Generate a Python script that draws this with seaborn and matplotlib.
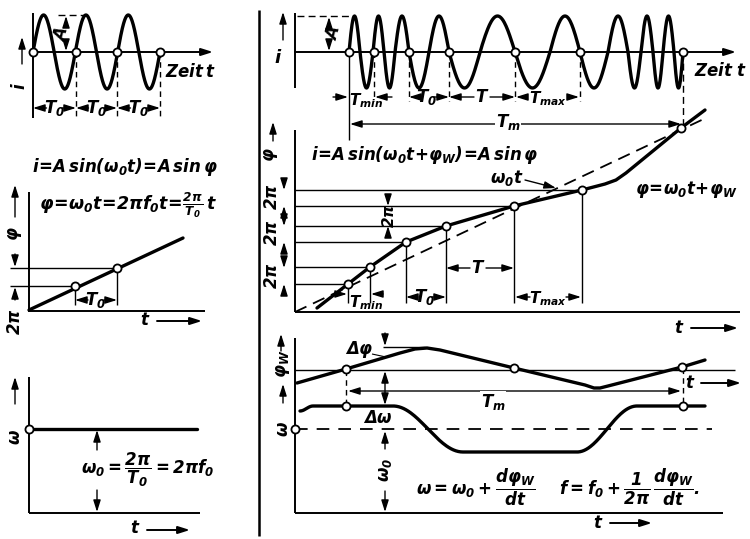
import numpy as np
import matplotlib
matplotlib.use("Agg")
import matplotlib.pyplot as plt
import seaborn as sns

# ---------------- data (diagram units) ----------------
# left column: unmodulated oscillation
L_cross = [33, 76, 117, 160]            # zero crossings every T0
L_axis_y = 52
L_amp = 37
L_phase_line_x = [29, 183]
L_phase_line_y = [310, 238]
L_phase_pts_x = [75, 117]
L_phase_pts_y = [286, 268]
L_omega_y = 429

# right column: frequency-modulated oscillation
fm_cross = [349, 360, 373, 384, 395, 409, 429, 449, 480, 515, 550, 580,
            608, 628, 641, 653, 663, 674, 683]       # half-period crossings
fm_circles = [349, 374, 409, 449, 515, 580, 683]
R_axis_y = 52
R_amp = 36

phase_x = [317, 348, 370, 406, 446, 514, 582, 605, 616, 626, 681, 705]
phase_y = [308, 284, 267, 242, 226, 206, 190, 184, 180, 173, 128, 110]
phase_pts_x = [348, 370, 406, 446, 514, 582, 681]
phase_pts_y = [284, 267, 242, 226, 206, 190, 128]
omega0t_x = [295, 708]
omega0t_y = [312, 117]

phiw_x = [297, 346, 400, 415, 427, 440, 514, 585, 594, 600, 608, 682, 705]
phiw_y = [383, 369, 353, 349, 348, 350, 368, 385, 388, 388, 386, 367, 360]
phiw_pts_x = [346, 514, 682]
phiw_pts_y = [369, 368, 367]

omega_hi, omega_lo = 406, 452
omega_edges = [300, 313, 393, 463, 577, 637, 705]

# ---------------- style ----------------
sns.set_theme(style="white")
plt.rcParams["font.family"] = ["DejaVu Sans"]
plt.rcParams["mathtext.fontset"] = "custom"
plt.rcParams["mathtext.it"] = "DejaVu Sans:italic:bold"
plt.rcParams["mathtext.rm"] = "DejaVu Sans:italic:bold"
plt.rcParams["mathtext.bf"] = "DejaVu Sans:italic:bold"
plt.rcParams["mathtext.sf"] = "DejaVu Sans:italic:bold"

fig = plt.figure(figsize=(7.5, 5.39), dpi=100)
ax = fig.add_axes([0, 0, 1, 1])
ax.set_xlim(0, 750)
ax.set_ylim(539, 0)
ax.axis("off")

K = "black"
THICK = 2.4
THIN = 1.0
AXW = 1.4
FS = 12


def line(xs, ys, lw=THIN, ls="-", dashes=None):
    kw = dict(color=K, lw=lw, ls=ls, solid_capstyle="butt")
    l, = ax.plot(xs, ys, **kw)
    if dashes:
        l.set_dashes(dashes)
    return l


def arrow(x1, y1, x2, y2, lw=THIN, hl=0.7, hw=0.22):
    ax.annotate("", xy=(x2, y2), xytext=(x1, y1),
                arrowprops=dict(arrowstyle=f"-|>,head_length={hl},head_width={hw}",
                                color=K, lw=lw, shrinkA=0, shrinkB=0,
                                mutation_scale=10))


def darrow(x1, y1, x2, y2, lw=THIN):
    ax.annotate("", xy=(x2, y2), xytext=(x1, y1),
                arrowprops=dict(arrowstyle="<|-|>,head_length=0.7,head_width=0.22",
                                color=K, lw=lw, shrinkA=0, shrinkB=0,
                                mutation_scale=10))


def txt(x, y, s, fs=FS, rot=0, bg=False, ha="center"):
    kw = {}
    if bg:
        kw["bbox"] = dict(facecolor="white", edgecolor="none", pad=0.5)
    ax.text(x, y, s, fontsize=fs, rotation=rot, ha=ha, va="center",
            color=K, style="italic", weight="bold", **kw)


def curve(xs, ys, lw=THICK):
    sns.lineplot(x=np.asarray(xs, float), y=np.asarray(ys, float), ax=ax,
                 color=K, lw=lw, sort=False, estimator=None)


def circles(xs, ys):
    sns.scatterplot(x=np.asarray(xs, float), y=np.asarray(ys, float), ax=ax,
                    s=34, facecolor="white", edgecolor=K, linewidth=1.3,
                    zorder=10, legend=False)


def dim_h(a, b, y, lab, lx=None, gap=9, ly=None, fs=FS):
    lx = (a + b) / 2 if lx is None else lx
    arrow(lx - gap, y, a, y)
    arrow(lx + gap, y, b, y)
    txt(lx, y if ly is None else ly, lab, fs=fs)


# ================= LEFT COLUMN =================
# --- L1: sine
t = np.linspace(L_cross[0], L_cross[-1], 800)
per = (L_cross[-1] - L_cross[0]) / (len(L_cross) - 1)
curve(t, L_axis_y - L_amp * np.sin(2 * np.pi * (t - L_cross[0]) / per))
line([33, 33], [13, 118], lw=AXW)
arrow(33, L_axis_y, 213, L_axis_y, lw=AXW)
for xc in L_cross[1:]:
    line([xc, xc], [L_axis_y, 118], dashes=(4, 3))
circles(L_cross, [L_axis_y] * len(L_cross))
line([58, 90], [15, 15], dashes=(5, 3))
arrow(66, 27, 66, 16)
arrow(66, 41, 66, 51)
txt(61, 34, "$A$", rot=75)
arrow(22, 64, 22, 37)
txt(20, 86, "$i$", rot=90)
for a, b in zip(L_cross[:-1], L_cross[1:]):
    dim_h(a, b, 108, "$T_0$", gap=8)
txt(190, 72, "$Zeit\\,t$")

# --- L2: phase
txt(125, 167, r"$i\!=\!A\,\sin(\omega_0 t)\!=\!A\,\sin\varphi$")
txt(128, 205, r"$\varphi\!=\!\omega_0 t\!=\!2\pi f_0 t\!=\!\frac{2\pi}{T_0}\,t$", fs=12.5)
line([29, 29], [192, 311], lw=AXW)
line([28, 205], [311, 311], lw=AXW)
curve(L_phase_line_x, L_phase_line_y)
for xp, yp in zip(L_phase_pts_x, L_phase_pts_y):
    line([10, xp], [yp, yp])
    line([xp, xp], [yp, 305])
circles(L_phase_pts_x, L_phase_pts_y)
dim_h(75, 117, 300, "$T_0$", gap=8)
arrow(15, 254, 15, 267)
arrow(15, 300, 15, 287)
txt(15, 322, r"$2\pi$", rot=90)
arrow(15, 217, 15, 185)
txt(15, 234, r"$\varphi$", rot=90)
txt(145, 320, "$t$")
arrow(157, 321, 202, 321, lw=AXW)

# --- L3: omega
line([29, 29], [377, 513], lw=AXW)
line([29, 200], [513, 513], lw=AXW)
curve([29, 197], [L_omega_y, L_omega_y])
circles([29], [L_omega_y])
arrow(97, 450, 97, 430)
arrow(97, 490, 97, 512)
txt(148, 470, r"$\omega_0=\dfrac{2\pi}{T_0}=2\pi f_0$")
arrow(15, 404, 15, 377)
txt(15, 437, r"$\omega$", rot=90)
txt(135, 528, "$t$")
arrow(147, 530, 190, 530, lw=AXW)

# separator
line([259, 259], [10, 536], lw=1.8)

# ================= RIGHT COLUMN =================
# --- R1: FM oscillation (half-sine lobes between read crossings)
xs_all, ys_all = [], []
for k, (a, b) in enumerate(zip(fm_cross[:-1], fm_cross[1:])):
    tt = np.linspace(a, b, 60)
    sgn = 1 if k % 2 == 0 else -1
    xs_all.append(tt)
    ys_all.append(R_axis_y - sgn * R_amp * np.sin(np.pi * (tt - a) / (b - a)))
curve(np.concatenate(xs_all), np.concatenate(ys_all))
line([295, 295], [13, 88], lw=AXW)
arrow(295, R_axis_y, 736, R_axis_y, lw=AXW)
arrow(283, 40, 283, 12)
txt(278, 58, "$i$", fs=13)
line([297, 353], [16, 16], dashes=(5, 3))
arrow(329, 27, 329, 17)
arrow(329, 40, 329, 51)
txt(333, 33, "$A$", rot=75)
txt(720, 71, "$Zeit\\;t$")
line([349, 349], [R_axis_y, 140])
for xc in fm_circles[1:-1]:
    line([xc, xc], [R_axis_y, 101], dashes=(4, 3))
line([683, 683], [R_axis_y, 124], dashes=(5, 3))
circles(fm_circles, [R_axis_y] * len(fm_circles))
arrow(333, 97, 348, 97)
arrow(392, 97, 375, 97)
txt(366, 101, "$T_{min}$", fs=11)
dim_h(409, 449, 97, "$T_0$", lx=427, gap=7)
dim_h(449, 515, 97, "$T$", lx=482, gap=8)
arrow(527, 97, 516, 97)
arrow(571, 97, 579, 97)
txt(548, 99, "$T_{max}$", fs=11)
darrow(350, 124, 681, 124)
txt(508, 122, "$T_m$", bg=True)

# --- R2: phase
txt(425, 155, r"$i\!=\!A\,\sin(\omega_0 t\!+\!\varphi_W)\!=\!A\,\sin\varphi$")
line([295, 295], [130, 312], lw=AXW)
line([295, 740], [312, 312], lw=AXW)
arrow(273, 141, 273, 122)
txt(271, 155, r"$\varphi$", rot=90)
for xp, yp in zip(phase_pts_x[:-1], phase_pts_y[:-1]):
    line([295, xp], [yp, yp])
    line([xp, xp], [yp, 303])
for a, b in [(190, 206), (226, 242), (268, 284)]:
    arrow(284, a - 9, 284, a)
    arrow(284, b + 9, 284, b)
txt(272, 197, r"$2\pi$", rot=90)
txt(272, 233, r"$2\pi$", rot=90)
txt(272, 276, r"$2\pi$", rot=90)
arrow(388, 196, 388, 206)
arrow(388, 236, 388, 226)
txt(389, 216, r"$2\pi$", rot=90, fs=11)
l = line(omega0t_x, omega0t_y, lw=1.3)
l.set_dashes((7, 4))
curve(phase_x, phase_y)
circles(phase_pts_x, phase_pts_y)
arrow(338, 294, 347, 294)
arrow(383, 294, 371, 294)
txt(366, 303, "$T_{min}$", fs=11)
dim_h(406, 446, 297, "$T_0$", lx=425, gap=7)
dim_h(446, 514, 268, "$T$", lx=478, gap=8)
arrow(530, 297, 515, 297)
arrow(566, 297, 581, 297)
txt(548, 299, "$T_{max}$", fs=11)
txt(507, 178, r"$\omega_0 t$")
arrow(525, 180, 556, 188)
txt(686, 190, r"$\varphi\!=\!\omega_0 t\!+\!\varphi_W$")
txt(679, 328, "$t$")
arrow(691, 328, 738, 328, lw=AXW)

# --- R3: phi_W and omega
line([295, 295], [338, 513], lw=AXW)
line([295, 723], [513, 513], lw=AXW)
line([295, 735], [370, 370])
arrow(281, 351, 281, 334)
txt(283, 364, r"$\varphi_W$", rot=90)
arrow(283, 403, 283, 384)
txt(283, 429, r"$\omega$", rot=90)
curve(phiw_x, phiw_y)
line([383, 425], [347, 347])
arrow(385, 333, 385, 346)
txt(359, 349, r"$\Delta\varphi$")
line([372, 386], [354, 357], lw=0.8)
txt(690, 383, "$t$")
arrow(701, 383, 741, 383, lw=AXW)
line([346, 346], [370, 406], dashes=(4, 3))
line([683, 683], [368, 406], dashes=(4, 3))
darrow(348, 391, 681, 391)
txt(493, 402, "$T_m$", bg=True)
darrow(385, 371, 385, 405)

# omega curve: flat levels joined by half-cosine transitions
e = omega_edges
seg_x, seg_y = [], []
tt = np.linspace(e[0], e[1], 20)
seg_x.append(tt); seg_y.append(omega_hi + 5 * 0.5 * (1 + np.cos(np.pi * (tt - e[0]) / (e[1] - e[0]))))
tt = np.linspace(e[1], e[2], 20); seg_x.append(tt); seg_y.append(np.full_like(tt, omega_hi))
tt = np.linspace(e[2], e[3], 60)
seg_x.append(tt); seg_y.append(omega_hi + (omega_lo - omega_hi) * 0.5 * (1 - np.cos(np.pi * (tt - e[2]) / (e[3] - e[2]))))
tt = np.linspace(e[3], e[4], 20); seg_x.append(tt); seg_y.append(np.full_like(tt, omega_lo))
tt = np.linspace(e[4], e[5], 60)
seg_x.append(tt); seg_y.append(omega_lo + (omega_hi - omega_lo) * 0.5 * (1 - np.cos(np.pi * (tt - e[4]) / (e[5] - e[4]))))
tt = np.linspace(e[5], e[6], 20); seg_x.append(tt); seg_y.append(np.full_like(tt, omega_hi))
curve(np.concatenate(seg_x), np.concatenate(seg_y))
l = line([295, 712], [429, 429], lw=1.3)
l.set_dashes((7, 5))
circles(phiw_pts_x, phiw_pts_y)
circles([346, 683, 295], [406, 406, 429])
txt(378, 418, r"$\Delta\omega$")
arrow(385, 449, 385, 431)
arrow(385, 491, 385, 512)
txt(385, 470, r"$\omega_0$", rot=90)
txt(476, 487, r"$\omega=\omega_0+\dfrac{d\varphi_W}{dt}$")
txt(630, 487, r"$f=f_0+\dfrac{1}{2\pi}\,\dfrac{d\varphi_W}{dt}.$")
txt(598, 523, "$t$")
arrow(610, 523, 652, 523, lw=AXW)

fig.savefig("out.png", dpi=100, facecolor="white")
